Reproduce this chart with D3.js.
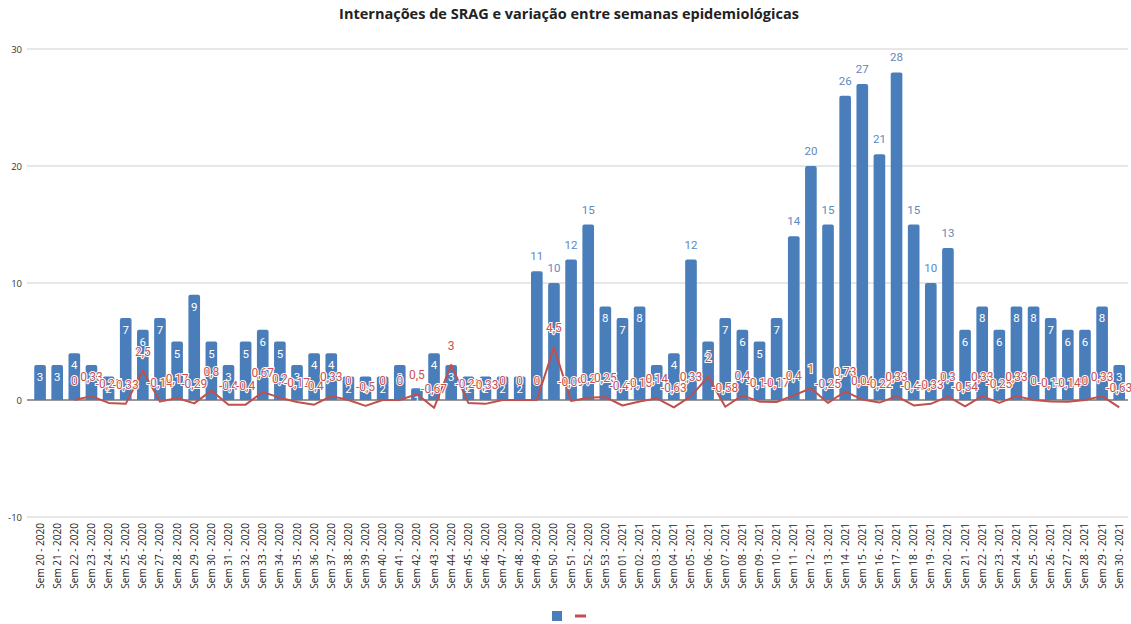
<!DOCTYPE html>
<html>
<head>
<meta charset="utf-8">
<script src="https://cdn.jsdelivr.net/npm/d3@7"></script>
<style>
  body { margin: 0; background: #fff; }
  svg { display: block; }
</style>
</head>
<body>
<svg id="chart"></svg>
<script>
// weeks: Sem 20 - 2020 ... Sem 53 - 2020, Sem 01 - 2021 ... Sem 30 - 2021
const weeks = [
  "Sem 20 - 2020","Sem 21 - 2020","Sem 22 - 2020","Sem 23 - 2020","Sem 24 - 2020","Sem 25 - 2020",
  "Sem 26 - 2020","Sem 27 - 2020","Sem 28 - 2020","Sem 29 - 2020","Sem 30 - 2020","Sem 31 - 2020",
  "Sem 32 - 2020","Sem 33 - 2020","Sem 34 - 2020","Sem 35 - 2020","Sem 36 - 2020","Sem 37 - 2020",
  "Sem 38 - 2020","Sem 39 - 2020","Sem 40 - 2020","Sem 41 - 2020","Sem 42 - 2020","Sem 43 - 2020",
  "Sem 44 - 2020","Sem 45 - 2020","Sem 46 - 2020","Sem 47 - 2020","Sem 48 - 2020","Sem 49 - 2020",
  "Sem 50 - 2020","Sem 51 - 2020","Sem 52 - 2020","Sem 53 - 2020",
  "Sem 01 - 2021","Sem 02 - 2021","Sem 03 - 2021","Sem 04 - 2021","Sem 05 - 2021","Sem 06 - 2021",
  "Sem 07 - 2021","Sem 08 - 2021","Sem 09 - 2021","Sem 10 - 2021","Sem 11 - 2021","Sem 12 - 2021",
  "Sem 13 - 2021","Sem 14 - 2021","Sem 15 - 2021","Sem 16 - 2021","Sem 17 - 2021","Sem 18 - 2021",
  "Sem 19 - 2021","Sem 20 - 2021","Sem 21 - 2021","Sem 22 - 2021","Sem 23 - 2021","Sem 24 - 2021",
  "Sem 25 - 2021","Sem 26 - 2021","Sem 27 - 2021","Sem 28 - 2021","Sem 29 - 2021","Sem 30 - 2021"
];

// internações (barras)
const internacoes = [
  3, 3, 4, 3, 2, 7, 6, 7, 5, 9, 5, 3, 5, 6, 5, 3, 4, 4, 2, 2, 2, 3, 1, 4, 3, 2, 2, 2, 2, 11, 10, 12, 15, 8,
  7, 8, 3, 4, 12, 5, 7, 6, 5, 7, 14, 20, 15, 26, 27, 21, 28, 15, 10, 13, 6, 8, 6, 8, 8, 7, 6, 6, 8, 3
];

// variação entre semanas (linha), null = sem ponto
const variacao = [
  null, null, 0, 0.33, -0.25, -0.33, 2.5, -0.14, 0.17, -0.29, 0.8, -0.4, -0.4, 0.67, 0.2, -0.17, -0.4, 0.33,
  0, -0.5, 0, 0, 0.5, -0.67, 3, -0.25, -0.33, 0, 0, 0, 4.5, -0.09, 0.2, 0.25,
  -0.47, -0.13, 0.14, -0.63, 0.33, 2, -0.58, 0.4, -0.14, -0.17, 0.4, 1, -0.25, 0.73, 0.04, -0.22, 0.33,
  -0.46, -0.33, 0.3, -0.54, 0.33, -0.25, 0.33, 0, -0.13, -0.14, 0, 0.33, -0.63
];

const yTicks = [-10, 0, 10, 20, 30];

const W = 1131, H = 624;
const fmt = v => String(v).replace('.', ',');

const svg = d3.select('#chart').attr('width', W).attr('height', H);

const x = d3.scaleBand()
  .domain(weeks)
  .range([31.5, 1127.8])
  .paddingInner(0.32)
  .paddingOuter(0.16);

const y = d3.scaleLinear()
  .domain([-10, 30])
  .range([517, 49]);

// title
svg.append('text')
  .attr('x', 569)
  .attr('y', 19)
  .attr('text-anchor', 'middle')
  .style('font-family', '"Open Sans", sans-serif')
  .style('font-weight', 'bold')
  .style('font-size', '14.5px')
  .style('fill', '#222')
  .text('Internações de SRAG e variação entre semanas epidemiológicas');

// grid + y labels
const grid = svg.append('g');
grid.selectAll('line')
  .data(yTicks)
  .join('line')
  .attr('x1', 27).attr('x2', 1128)
  .attr('y1', d => y(d)).attr('y2', d => y(d))
  .attr('stroke', d => d === 0 ? '#333' : '#cfcfcf')
  .attr('stroke-width', 1);

grid.selectAll('text')
  .data(yTicks)
  .join('text')
  .attr('x', 22)
  .attr('y', d => y(d) + 3.5)
  .attr('text-anchor', 'end')
  .style('font-family', '"Open Sans", sans-serif')
  .style('font-size', '9.5px')
  .style('fill', '#333')
  .text(d => d);

// bars
const barW = x.bandwidth();
svg.append('g').selectAll('path')
  .data(internacoes)
  .join('path')
  .attr('d', (d, i) => {
    const x0 = x(weeks[i]), y0 = y(d), y1 = y(0), r = 2;
    return `M${x0},${y1}V${y0 + r}Q${x0},${y0} ${x0 + r},${y0}H${x0 + barW - r}Q${x0 + barW},${y0} ${x0 + barW},${y0 + r}V${y1}Z`;
  })
  .attr('fill', '#4a7ebb');

// bar labels
svg.append('g').selectAll('text')
  .data(internacoes)
  .join('text')
  .attr('x', (d, i) => x(weeks[i]) + barW / 2)
  .attr('y', d => d >= 10 ? y(d) - 11 : y(d) + 16)
  .attr('text-anchor', 'middle')
  .style('font-family', 'Roboto, sans-serif')
  .style('font-size', '11.5px')
  .style('fill', d => d >= 10 ? '#6187c0' : '#fff')
  .text(d => d);

// line
const pts = variacao.map((v, i) => ({ v, i })).filter(d => d.v !== null);
const line = d3.line()
  .x(d => x(weeks[d.i]) + barW / 2)
  .y(d => y(d.v));

svg.append('path')
  .datum(pts)
  .attr('d', line)
  .attr('fill', 'none')
  .attr('stroke', '#c0504d')
  .attr('stroke-width', 2)
  .attr('stroke-linejoin', 'round');

// line labels
svg.append('g').selectAll('text')
  .data(pts)
  .join('text')
  .attr('x', d => x(weeks[d.i]) + barW / 2)
  .attr('y', d => y(d.v) - 15)
  .attr('text-anchor', 'middle')
  .style('font-family', 'Roboto, sans-serif')
  .style('font-size', '12px')
  .style('fill', '#c9514e')
  .style('stroke', '#fff')
  .style('stroke-width', '2px')
  .style('paint-order', 'stroke')
  .text(d => fmt(d.v));

// x axis labels
svg.append('g').selectAll('text')
  .data(weeks)
  .join('text')
  .attr('transform', d => `translate(${x(d) + barW / 2 + 3.5},523) rotate(-90)`)
  .attr('text-anchor', 'end')
  .style('font-family', '"Open Sans", sans-serif')
  .style('font-size', '10px')
  .style('fill', '#222')
  .text(d => d);

// legend
svg.append('rect')
  .attr('x', 552).attr('y', 611)
  .attr('width', 10).attr('height', 10)
  .attr('fill', '#4a7ebb');
svg.append('line')
  .attr('x1', 575).attr('x2', 586)
  .attr('y1', 616).attr('y2', 616)
  .attr('stroke', '#c0504d')
  .attr('stroke-width', 3);
</script>
</body>
</html>
